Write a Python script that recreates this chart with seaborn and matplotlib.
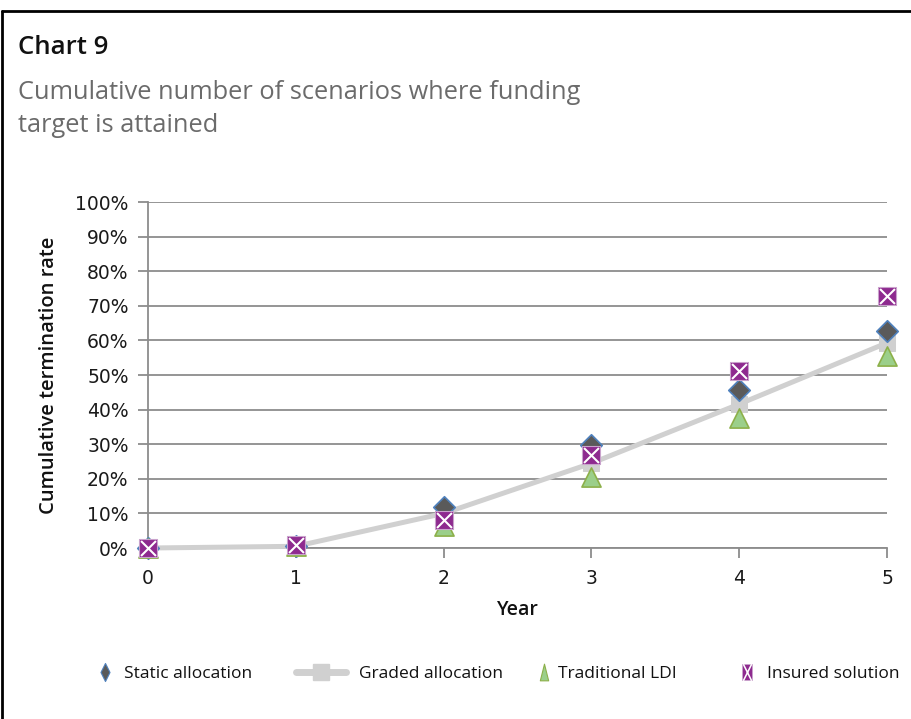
import matplotlib
matplotlib.use("Agg")
import matplotlib.pyplot as plt
from matplotlib.lines import Line2D
from matplotlib.path import Path
from matplotlib.legend_handler import HandlerTuple
import seaborn as sns
import pandas as pd

# Cumulative termination rate (%) by year for each investment strategy
years = [0, 1, 2, 3, 4, 5]
static_allocation = [0, 0.5, 12, 29.7, 45.7, 62.7]
graded_allocation = [0, 0.5, 10, 24.5, 41.6, 59.3]
traditional_ldi = [0, 0.5, 6.5, 20.4, 37.5, 55.4]
insured_solution = [0, 0.8, 8, 26.8, 51.2, 72.8]

series_names = ["Static allocation", "Graded allocation", "Traditional LDI",
                "Insured solution"]
y_ticks = [0, 10, 20, 30, 40, 50, 60, 70, 80, 90, 100]
y_tick_labels = [f"{v}%" for v in y_ticks]

df = pd.DataFrame({
    "Year": years,
    series_names[0]: static_allocation,
    series_names[1]: graded_allocation,
    series_names[2]: traditional_ldi,
    series_names[3]: insured_solution,
})

sns.set_theme(style="white")
plt.rcParams["font.family"] = ["DejaVu Sans"]
label_font = ["Open Sans", "DejaVu Sans"]

fig = plt.figure(figsize=(9.12, 7.19), dpi=100)
ax = fig.add_axes([0.1623, 0.2378, 0.8103, 0.4812])

grid_c = "#8c8c8c"
gray_line = "#d0d0d0"
diamond_fill = "#5a5a5a"
diamond_edge = "#4f81bd"
ldi_fill = "#9bcf8a"
ldi_edge = "#8db04a"
purple = "#8e2a8f"

# Graded allocation: thick light-grey line with square markers
sns.lineplot(data=df, x="Year", y=series_names[1], ax=ax, color=gray_line,
             linewidth=3.6, marker="s", markersize=12, markeredgecolor=gray_line,
             markerfacecolor=gray_line, zorder=3, legend=False, clip_on=False)

sns.scatterplot(data=df, x="Year", y=series_names[0], ax=ax, marker="D",
                s=120, color=diamond_fill, edgecolor=diamond_edge, linewidth=1.2,
                zorder=4, legend=False, clip_on=False)
sns.scatterplot(data=df, x="Year", y=series_names[2], ax=ax, marker="^",
                s=190, color=ldi_fill, edgecolor=ldi_edge, linewidth=1.2,
                zorder=5, legend=False, clip_on=False)
sns.scatterplot(data=df, x="Year", y=series_names[3], ax=ax, marker="s",
                s=180, color=purple, edgecolor="#c9a2cc", linewidth=0.8,
                zorder=6, legend=False, clip_on=False)
sns.scatterplot(data=df, x="Year", y=series_names[3], ax=ax, marker="x",
                s=115, color="white", linewidth=1.5, zorder=7, legend=False,
                clip_on=False)

ax.set_xlim(0, 5)
ax.set_ylim(0, 100)
ax.set_xticks(years)
ax.set_xticklabels([str(y) for y in years])
ax.set_yticks(y_ticks)
ax.set_yticklabels(y_tick_labels)
ax.yaxis.grid(True, color=grid_c, linewidth=1.3)
ax.set_axisbelow(True)

for side in ["top", "right"]:
    ax.spines[side].set_visible(False)
for side in ["left", "bottom"]:
    ax.spines[side].set_color(grid_c)
    ax.spines[side].set_linewidth(1.3)

ax.tick_params(axis="both", which="both", length=7, width=1.3, color=grid_c,
               labelsize=13.5, labelcolor="#1a1a1a")
ax.tick_params(axis="x", direction="out", bottom=True, pad=8)
ax.tick_params(axis="y", direction="out", left=True, pad=7)

ax.set_xlabel("Year", fontsize=14, family=label_font,
              fontweight="semibold", color="#111111", labelpad=9)
ax.set_ylabel("Cumulative termination rate", fontsize=14.5,
              family=label_font, fontweight="semibold",
              color="#111111", labelpad=12)

# Header text
fig.text(0.020, 0.934, "Chart 9", fontsize=18.5, family=label_font,
         fontweight="semibold", color="#111111", va="center", ha="left")
fig.text(0.020, 0.872, "Cumulative number of scenarios where funding",
         fontsize=18.3, family=label_font, color="#6b6b6b",
         va="center", ha="left")
fig.text(0.020, 0.825, "target is attained", fontsize=18.3,
         family=label_font, color="#6b6b6b", va="center", ha="left")

# Panel border on the left and top edges
fig.add_artist(Line2D([0.002, 0.002], [0.0, 0.985], transform=fig.transFigure,
                      color="black", linewidth=2))
fig.add_artist(Line2D([0.002, 1.0], [0.985, 0.985], transform=fig.transFigure,
                      color="black", linewidth=2))

# Narrow legend glyphs
diamond_path = Path([(0, 1), (0.5, 0), (0, -1), (-0.5, 0), (0, 1)],
                    [Path.MOVETO, Path.LINETO, Path.LINETO, Path.LINETO, Path.CLOSEPOLY])
tri_path = Path([(-0.5, -1), (0.5, -1), (0, 1), (-0.5, -1)],
                [Path.MOVETO, Path.LINETO, Path.LINETO, Path.CLOSEPOLY])
rect_path = Path([(-0.55, -1), (0.55, -1), (0.55, 1), (-0.55, 1), (-0.55, -1)],
                 [Path.MOVETO, Path.LINETO, Path.LINETO, Path.LINETO, Path.CLOSEPOLY])
cross_path = Path([(-0.4, -0.8), (0.4, 0.8), (-0.4, 0.8), (0.4, -0.8)],
                  [Path.MOVETO, Path.LINETO, Path.MOVETO, Path.LINETO])

h_static = Line2D([], [], marker=diamond_path, linestyle="none", markersize=13,
                  markerfacecolor=diamond_fill, markeredgecolor=diamond_edge,
                  markeredgewidth=0.8)
h_graded = Line2D([], [], marker="s", color=gray_line, linewidth=5,
                  markersize=11, markerfacecolor=gray_line, markeredgecolor=gray_line)
h_ldi = Line2D([], [], marker=tri_path, linestyle="none", markersize=12,
               markerfacecolor=ldi_fill, markeredgecolor=ldi_edge,
               markeredgewidth=0.8)
h_ins_sq = Line2D([], [], marker=rect_path, linestyle="none", markersize=12,
                  markerfacecolor=purple, markeredgecolor="#c9a2cc",
                  markeredgewidth=0.6)
h_ins_x = Line2D([], [], marker=cross_path, linestyle="none", markersize=12,
                 markerfacecolor="none", markeredgecolor="white",
                 markeredgewidth=1.1)

legend_items = [
    ([h_static], 96, 1.0, 0.6),
    ([h_graded], 296, 2.9, 0.75),
    ([h_ldi], 535, 1.0, 0.35),
    ([(h_ins_sq, h_ins_x)], 738, 1.0, 0.65),
]
for (handles, x_px, hlen, hpad), name in zip(legend_items, series_names):
    lg = fig.legend(handles, [name], handler_map={tuple: HandlerTuple(ndivide=1)},
                    loc="center left", bbox_to_anchor=(x_px / 912, 1 - 674 / 719),
                    frameon=False, borderpad=0, borderaxespad=0,
                    prop={"family": label_font, "size": 12.5},
                    handlelength=hlen, handletextpad=hpad)
    for t in lg.get_texts():
        t.set_color("#111111")

fig.savefig("out.png", dpi=100)
